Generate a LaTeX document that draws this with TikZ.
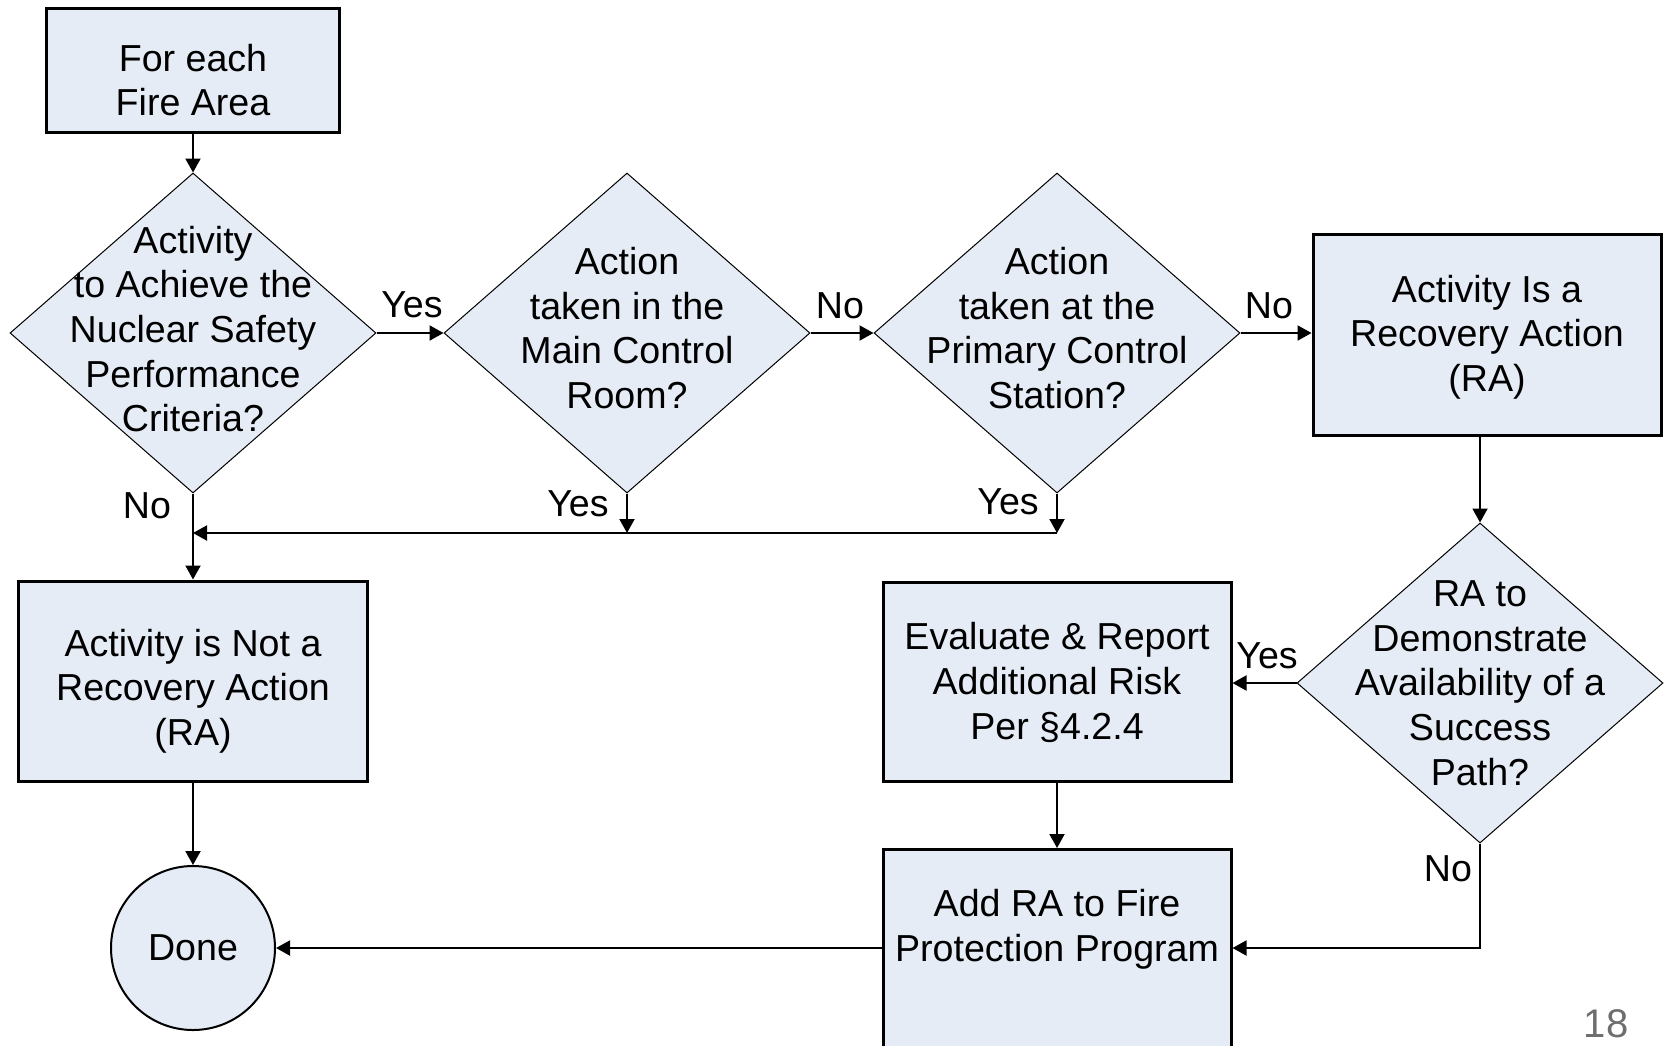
\documentclass[tikz,border=0pt]{standalone}
\usepackage{fontspec}
\setmainfont{Liberation Sans}
\usetikzlibrary{shapes.geometric,arrows.meta}
\definecolor{boxfill}{RGB}{230,236,246}
\definecolor{pagenum}{RGB}{110,110,110}

\begin{document}
\begin{tikzpicture}[x=0.5pt,y=-0.5pt,
  every node/.style={font=\fontsize{18.8}{22.35}\selectfont},
  stepbox/.style={draw, line width=1.5pt, fill=boxfill, align=center, inner sep=0pt},
  decision/.style={draw, line width=0.5pt, fill=boxfill, diamond, inner sep=0pt,
                   minimum width=183pt, minimum height=160pt},
  inside/.style={align=center, inner sep=0pt},
  flow/.style={line width=1pt, -{Triangle[length=7pt,width=7.5pt]}},
  tag/.style={inner sep=0pt}
]
\useasboundingbox (0,0) rectangle (1668,1045);

% process boxes
\node[stepbox, minimum width=146.5pt, minimum height=62pt] (fire) at (193,70) {};
\node[inside] (firetxt) at (193,80) {For each\\Fire Area};
\node[stepbox, minimum width=174pt, minimum height=100.5pt] (ra) at (1487,334.5) {};
\node[inside] (ratxt) at (1487,337) {Activity Is a\\Recovery Action\\(RA)};
\node[stepbox, minimum width=174.5pt, minimum height=100pt] (notra) at (193,681) {};
\node[inside] (notratxt) at (193,691) {Activity is Not a\\Recovery Action\\(RA)};
\node[stepbox, minimum width=174pt, minimum height=99.5pt] (eval) at (1057,681.5) {};
\node[inside] (evaltxt) at (1057,682.5) {Evaluate \& Report\\Additional Risk\\Per §4.2.4};
\node[stepbox, minimum width=174pt, minimum height=126pt, anchor=north] (add) at (1057,848) {};
\node[inside] (addtxt) at (1057,929) {Add RA to Fire\\Protection Program};

% decisions
\node[decision] (d1) at (193,333) {};
\node[inside] at ([yshift=2pt]d1.center) {Activity\\to Achieve the\\Nuclear Safety\\Performance\\Criteria?};
\node[decision] (d2) at (627,333) {};
\node[inside] at ([yshift=2.5pt]d2.center) {Action\\taken in the\\Main Control\\Room?};
\node[decision] (d3) at (1057,333) {};
\node[inside] at ([yshift=2.5pt]d3.center) {Action\\taken at the\\Primary Control\\Station?};
\node[decision] (d4) at (1480,683) {};
\node[inside] at (d4) {RA to\\Demonstrate\\Availability of a\\Success\\Path?};

% terminal
\node[draw, circle, line width=1pt, fill=boxfill, minimum size=82pt, inner sep=0pt] (done) at (193,948) {Done};

% junction points of the merge line
\coordinate (m2) at (627,533);
\coordinate (m3) at (1057,533);
\coordinate (join) at (193,533);

% connectors
\draw[flow] (fire.south) -- (d1.north);
\draw[flow] (d1.east) -- (d2.west);
\draw[flow] (d2.east) -- (d3.west);
\draw[flow] (d3.east) -- (d3.east -| ra.west);
\draw[flow] (d1.south) -- (notra.north);
\draw[flow] (d2.south) -- (m2);
\draw[flow] (d3.south) -- (m3);
\draw[flow] (m3) -- (join);
\draw[flow] (d4.north |- ra.south) -- (d4.north);
\draw[flow] (d4.west) -- (d4.west -| eval.east);
\draw[flow] (eval.south) -- (add.north);
\draw[flow] (d4.south) |- (add.east |- done);
\draw[flow] (add.west |- done) -- (done.east);
\draw[flow] (notra.south) -- (done.north);

% branch labels
\node[tag] (l1) at (412,305) {Yes};
\node[tag] (l2) at (840,306) {No};
\node[tag] (l3) at (1269,306) {No};
\node[tag] (l4) at (147,506) {No};
\node[tag] (l5) at (578,504) {Yes};
\node[tag] (l6) at (1008,502) {Yes};
\node[tag] (l7) at (1267,656) {Yes};
\node[tag] (l8) at (1448,869) {No};

% page number
\node[tag, text=pagenum, font=\fontsize{20}{24}\selectfont] (pg) at (1606,1024) {18};
\end{tikzpicture}
\end{document}
